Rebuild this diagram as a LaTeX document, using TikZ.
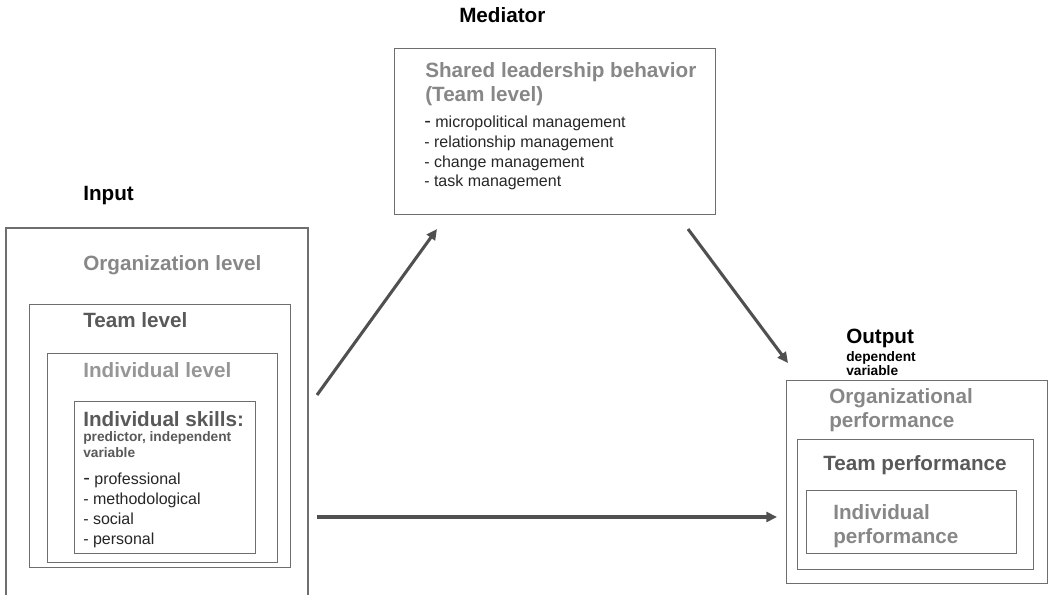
\documentclass[tikz,border=0pt]{standalone}
\usepackage{fontspec}
\setmainfont{Liberation Sans}
\usetikzlibrary{arrows.meta}
\definecolor{lgray}{HTML}{878787}
\definecolor{vlgray}{HTML}{969696}
\definecolor{dgray}{HTML}{595959}
\definecolor{linec}{HTML}{6E6E6E}
\definecolor{arrc}{HTML}{505050}
\definecolor{listc}{HTML}{262626}
\begin{document}
\begin{tikzpicture}[x=0.75pt,y=-0.75pt,
  frame/.style={draw=linec, line width=0.9pt, anchor=north west, inner sep=0pt},
  frameline/.style={draw=linec, line width=0.9pt},
  tl/.style={anchor=base west, inner sep=0pt, font=\fontsize{15.5}{18}\selectfont\bfseries},
  sm/.style={anchor=base west, inner sep=0pt, font=\fontsize{10.3}{12}\selectfont\bfseries},
  li/.style={anchor=base west, inner sep=0pt, font=\fontsize{12}{14}\selectfont, text=listc},
  conn/.style={draw=arrc, line width=2.3pt, -{Triangle[length=8pt,width=7.5pt]}}]
\useasboundingbox (0,0) rectangle (1048,595);

% headers
\node[tl] (hmed) at (459,23) {Mediator};
\node[tl] (hin) at (83,200) {Input};
\node[tl] (hout) at (846,343) {Output};
\node[sm] (dep1) at (846,361) {dependent};
\node[sm] (dep2) at (846,375) {variable};

% mediator box
\node[frame, minimum width=240.75pt, minimum height=124.5pt] (med) at (394,48) {};
\node[tl, text=lgray] (m1) at (425,78) {Shared leadership behavior};
\node[tl, text=lgray] (m2) at (425,102) {(Team level)};
\node[li] (ml1) at (424,128) {{\fontsize{15}{14}\selectfont -} micropolitical management};
\node[li] (ml2) at (424,148) {- relationship management};
\node[li] (ml3) at (424,168) {- change management};
\node[li] (ml4) at (424,187) {- task management};

% input boxes
\draw[frameline] (6,596) -- (6,228) -- (308,228) -- (308,596);
\node[tl, text=lgray] (orgl) at (83,270) {Organization level};
\node[frame, minimum width=195.75pt, minimum height=197.25pt] (team) at (29,304) {};
\node[tl, text=dgray] (teaml) at (83,327) {Team level};
\node[frame, minimum width=172.5pt, minimum height=156.75pt] (indl) at (47,353) {};
\node[tl, text=vlgray] (indll) at (83,377) {Individual level};
\node[frame, minimum width=135.75pt, minimum height=114pt] (skills) at (74,401) {};
\node[tl, text=dgray] (sk1) at (83,426) {Individual skills:};
\node[sm, text=dgray] (sk2) at (83,441) {predictor, independent};
\node[sm, text=dgray] (sk3) at (83,457) {variable};
\node[li] (sl1) at (83,484) {{\fontsize{15}{14}\selectfont -} professional};
\node[li] (sl2) at (83,504) {- methodological};
\node[li] (sl3) at (83,524) {- social};
\node[li] (sl4) at (83,544) {- personal};

% output boxes
\node[frame, minimum width=195.75pt, minimum height=152.25pt] (outb) at (786,380) {};
\node[tl, text=lgray] (o1) at (829,403) {Organizational};
\node[tl, text=lgray] (o2) at (829,427) {performance};
\node[frame, minimum width=177pt, minimum height=97.5pt] (tperf) at (797,439) {};
\node[tl, text=dgray] (tp) at (823,470) {Team performance};
\node[frame, minimum width=157.5pt, minimum height=47.25pt] (iperf) at (806,490) {};
\node[tl, text=lgray] (ip1) at (833,519) {Individual};
\node[tl, text=lgray] (ip2) at (833,543) {performance};

% connectors
\coordinate (a1s) at (317,395);
\coordinate (a1e) at (437,229);
\coordinate (a2s) at (688,229);
\coordinate (a2e) at (788,363);
\coordinate (a3s) at (317,517);
\coordinate (a3e) at (777,517);
\draw[conn] (a1s) -- (a1e);
\draw[conn] (a2s) -- (a2e);
\draw[conn] (a3s) -- (a3e);
\end{tikzpicture}
\end{document}
